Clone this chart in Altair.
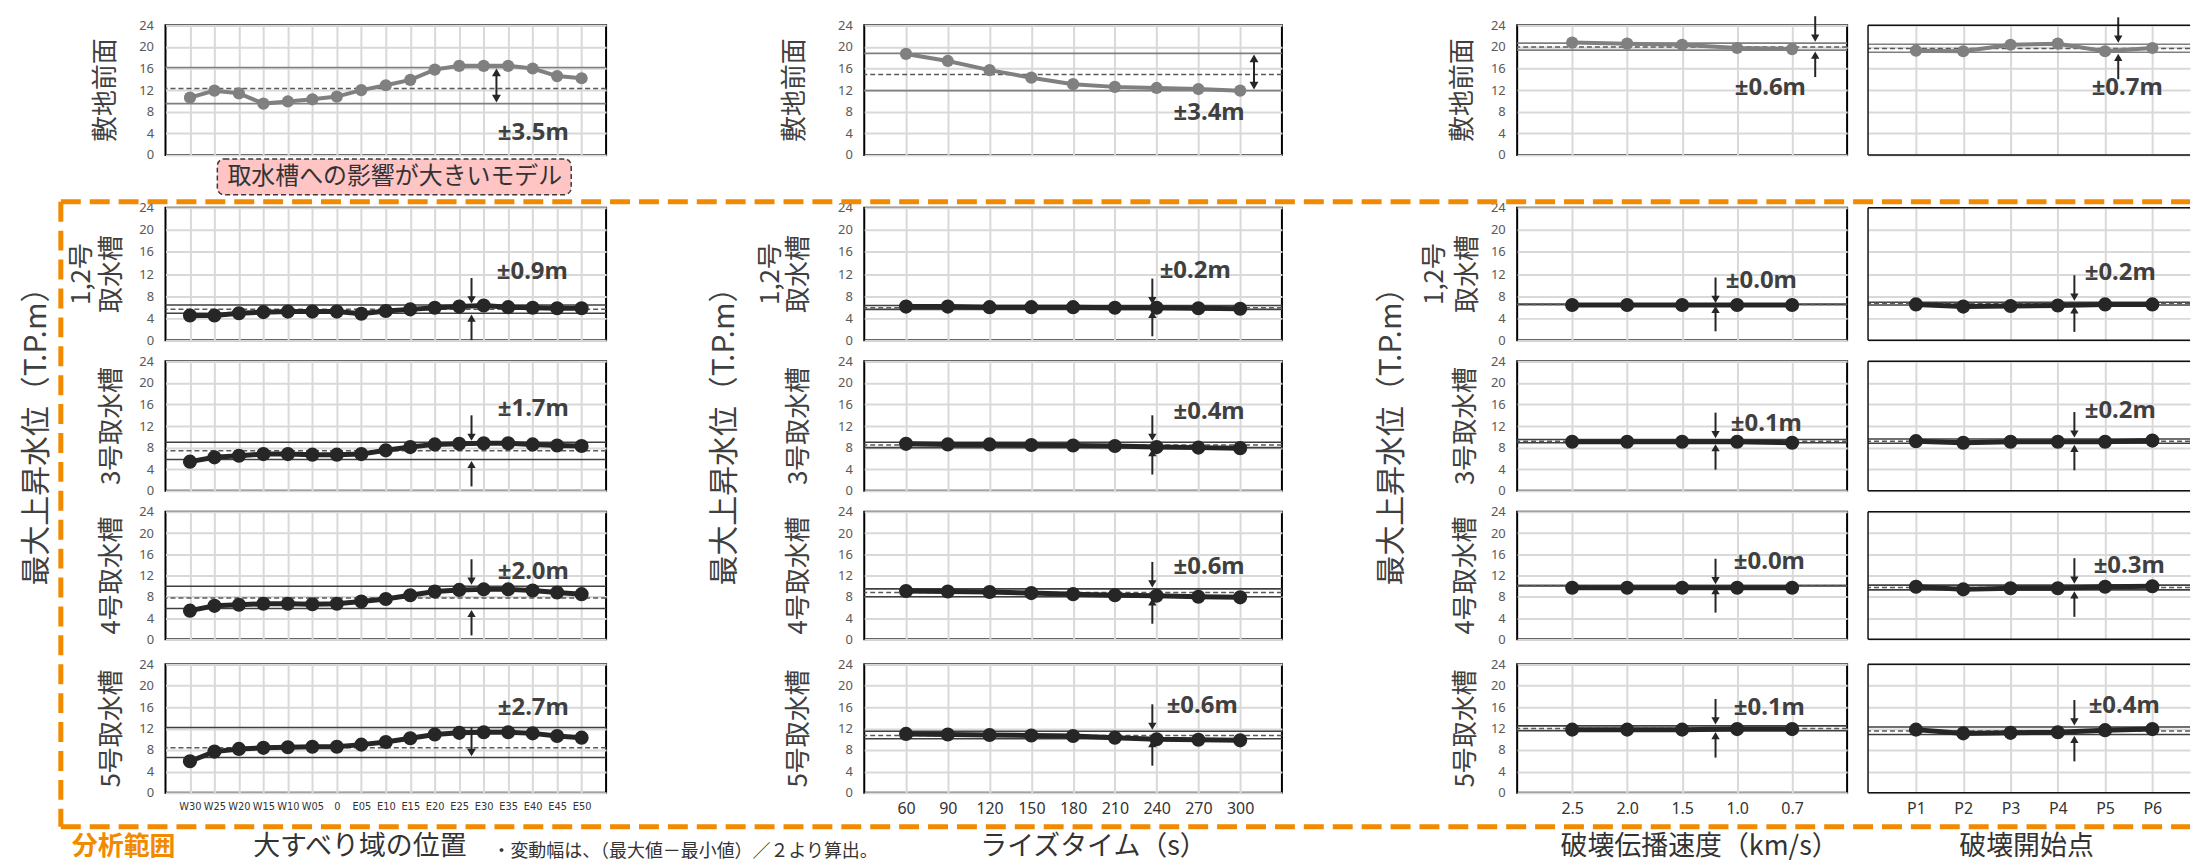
import altair as alt
import pandas as pd

# ---------------- categories / labels ----------------
POS_CATS = ["W30", "W25", "W20", "W15", "W10", "W05", "0", "E05", "E10", "E15",
            "E20", "E25", "E30", "E35", "E40", "E45", "E50"]
RISE_CATS = ["60", "90", "120", "150", "180", "210", "240", "270", "300"]
SPEED_CATS = ["2.5", "2.0", "1.5", "1.0", "0.7"]
START_CATS = ["P1", "P2", "P3", "P4", "P5", "P6"]

ROW_TITLES = [["敷地前面"], ["1,2号", "取水槽"], ["3号取水槽"], ["4号取水槽"], ["5号取水槽"]]
COL_TITLES = ["大すべり域の位置", "ライズタイム（s）", "破壊伝播速度（km/s）", "破壊開始点"]
BIG_LABEL = "最大上昇水位（T.P.m）"
NOTE = "・変動幅は、（最大値－最小値）／２より算出。"
RANGE_TAG = "分析範囲"
PINK_TAG = "取水槽への影響が大きいモデル"

# ---------------- values (T.P.m) ----------------
POS_SITE = [10.6, 11.9, 11.4, 9.5, 9.9, 10.3, 10.8, 12.0, 12.9, 13.9, 15.8, 16.5, 16.5, 16.5, 16.0, 14.6, 14.2]
POS_T12 = [4.5, 4.5, 4.9, 5.1, 5.2, 5.2, 5.2, 4.8, 5.3, 5.6, 5.9, 6.1, 6.3, 6.0, 5.9, 5.8, 5.8]
POS_T3 = [5.4, 6.2, 6.5, 6.8, 6.8, 6.7, 6.7, 6.8, 7.5, 8.1, 8.6, 8.7, 8.8, 8.8, 8.6, 8.4, 8.3]
POS_T4 = [5.4, 6.3, 6.5, 6.7, 6.7, 6.6, 6.7, 7.1, 7.6, 8.3, 9.0, 9.3, 9.4, 9.4, 9.2, 8.8, 8.5]
POS_T5 = [5.9, 7.7, 8.2, 8.4, 8.5, 8.6, 8.6, 9.0, 9.5, 10.2, 10.9, 11.2, 11.3, 11.3, 11.1, 10.6, 10.3]
POS_MAX = [16.2, 6.4, 9.0, 10.0, 12.2]
POS_MIN = [9.5, 4.9, 5.8, 5.8, 6.6]
POS_MEAN = [12.3, 5.6, 7.4, 7.8, 8.4]
POS_RANGE = ["±3.5m", "±0.9m", "±1.7m", "±2.0m", "±2.7m"]

RISE_SITE = [18.7, 17.4, 15.7, 14.3, 13.1, 12.6, 12.4, 12.2, 11.9]
RISE_T12 = [6.1, 6.1, 6.0, 6.0, 6.0, 5.9, 5.9, 5.8, 5.7]
RISE_T3 = [8.7, 8.6, 8.6, 8.5, 8.4, 8.3, 8.1, 8.0, 7.9]
RISE_T4 = [9.1, 9.0, 8.9, 8.7, 8.5, 8.3, 8.2, 8.0, 7.9]
RISE_T5 = [11.0, 10.9, 10.8, 10.7, 10.6, 10.3, 10.0, 9.9, 9.8]
RISE_MAX = [18.8, 6.3, 9.0, 9.5, 11.5]
RISE_MIN = [11.9, 5.6, 8.0, 8.0, 10.1]
RISE_MEAN = [14.9, 5.9, 8.5, 8.8, 10.7]
RISE_RANGE = ["±3.4m", "±0.2m", "±0.4m", "±0.6m", "±0.6m"]

SPEED_SITE = [20.8, 20.6, 20.4, 19.8, 19.6]
SPEED_T12 = [6.4, 6.4, 6.4, 6.4, 6.4]
SPEED_T3 = [9.1, 9.1, 9.1, 9.1, 8.9]
SPEED_T4 = [9.7, 9.7, 9.7, 9.7, 9.7]
SPEED_T5 = [11.8, 11.8, 11.8, 11.9, 11.9]
SPEED_MAX = [20.7, 6.5, 9.5, 10.1, 12.5]
SPEED_MIN = [19.4, 6.5, 8.9, 10.1, 11.6]
SPEED_MEAN = [20.0, 6.5, 9.2, 10.1, 12.0]
SPEED_RANGE = ["±0.6m", "±0.0m", "±0.1m", "±0.0m", "±0.1m"]

START_SITE = [19.3, 19.2, 20.4, 20.6, 19.2, 19.8]
START_T12 = [6.5, 6.1, 6.2, 6.3, 6.5, 6.5]
START_T3 = [9.2, 8.9, 9.1, 9.1, 9.1, 9.3]
START_T4 = [9.9, 9.4, 9.6, 9.6, 9.9, 10.0]
START_T5 = [11.8, 11.1, 11.2, 11.3, 11.7, 11.9]
START_MAX = [20.5, 6.9, 9.6, 10.2, 12.3]
START_MIN = [19.0, 6.4, 8.8, 9.3, 10.9]
START_MEAN = [19.7, 6.7, 9.2, 9.75, 11.55]
START_RANGE = ["±0.7m", "±0.2m", "±0.2m", "±0.3m", "±0.4m"]

COLUMNS = [
    dict(cats=POS_CATS, series=[POS_SITE, POS_T12, POS_T3, POS_T4, POS_T5],
         mx=POS_MAX, mn=POS_MIN, mean=POS_MEAN, rng=POS_RANGE),
    dict(cats=RISE_CATS, series=[RISE_SITE, RISE_T12, RISE_T3, RISE_T4, RISE_T5],
         mx=RISE_MAX, mn=RISE_MIN, mean=RISE_MEAN, rng=RISE_RANGE),
    dict(cats=SPEED_CATS, series=[SPEED_SITE, SPEED_T12, SPEED_T3, SPEED_T4, SPEED_T5],
         mx=SPEED_MAX, mn=SPEED_MIN, mean=SPEED_MEAN, rng=SPEED_RANGE),
    dict(cats=START_CATS, series=[START_SITE, START_T12, START_T3, START_T4, START_T5],
         mx=START_MAX, mn=START_MIN, mean=START_MEAN, rng=START_RANGE),
]

# ---------------- layout / style (page pixels) ----------------
JP = "Noto Sans CJK JP"
LAT = "Noto Sans"
NARROW = "DejaVu Sans Condensed, Liberation Sans Narrow, Liberation Sans"
ORANGE = "#f28a00"
GRID_W = [154, 442, 259, 419, 236, 331, 21, 323]
GRID_H = [12, 130, 53, 133, 21, 130, 21, 128, 25, 129, 69]
PANEL_COLS = {1: 0, 3: 1, 5: 2, 7: 3}
PANEL_ROWS = {1: 0, 3: 1, 5: 2, 7: 3, 9: 4}
GRID_X = [8 + sum(GRID_W[:j]) for j in range(len(GRID_W))]
GRID_Y = [8 + sum(GRID_H[:i]) for i in range(len(GRID_H))]

XPAD = [(1.0, 0.5), (1.0, 0.5), (1.0, 0.5), (0.905, 0.56)]
XLABEL_SIZE = [11, 16, 16, 16]
XLABEL_FONT = [NARROW, LAT, LAT, LAT]
ROW_LABEL_X = [(102, 108, (78, 108)), (794, 798, (769, 798)), (1464, 1467, (1436, 1469)), None]
ARROW_X = [(494, 469), (1254, 1152), (1817, 1717), (2121, 2077)]
ARROW_KIND = [["double", "in", "in", "in", "down"], ["double", "in", "in", "in", "in"],
              ["in"] * 5, ["in"] * 5]
TEXT_POS = [[(531, 128), (530, 267), (531, 405), (531, 568), (531, 705)],
            [(1209, 108), (1195, 266), (1209, 408), (1209, 563), (1202, 703)],
            [(1772, 83), (1763, 277), (1768, 420), (1771, 558), (1771, 705)],
            [(2130, 83), (2123, 268), (2123, 407), (2132, 562), (2127, 703)]]


def spacer(w, h):
    return alt.Chart(alt.Data(values=[{"a": 0}])).mark_point(opacity=0).encode(
        x=alt.value(0), y=alt.value(0)).properties(width=w, height=h)


def text_layer(t, x, y, size, color="#404040", font=JP, weight="normal", angle=0,
               align="center", baseline="middle"):
    return alt.Chart(alt.Data(values=[{"t": t}])).mark_text(
        font=font, fontSize=size, color=color, fontWeight=weight, angle=angle,
        align=align, baseline=baseline).encode(text="t:N", x=alt.value(x), y=alt.value(y))


def panel(ci, ri, w, h, left, top):
    col = COLUMNS[ci]
    cats = col["cats"]
    series = col["series"][ri]
    mx, mn, mean = col["mx"][ri], col["mn"][ri], col["mean"][ri]
    df = pd.DataFrame({"cat": cats, "val": series})

    yscale = alt.Scale(domain=[0, 24], nice=False, zero=True)
    yaxis = alt.Axis(values=[0, 4, 8, 12, 16, 20, 24], labels=(ci < 3), title="",
                     grid=True, gridColor="#d9d9d9", gridWidth=2, ticks=False,
                     domain=False, labelPadding=12, labelFontSize=13,
                     labelColor="#595959", labelFont=LAT, labelFlush=False)
    pad, al = XPAD[ci]
    xscale = alt.Scale(type="point", padding=pad, align=al)
    xaxis = alt.Axis(labels=(ri == 4), title="", grid=True, gridColor="#d9d9d9",
                     gridWidth=2, ticks=False, domain=False, labelAngle=0,
                     labelPadding=8, labelFontSize=XLABEL_SIZE[ci],
                     labelColor="#333333", labelFont=XLABEL_FONT[ci],
                     labelOverlap=False)
    X = alt.X("cat:N", sort=cats, scale=xscale, axis=xaxis)
    Y = alt.Y("val:Q", scale=yscale, axis=yaxis)

    if ri == 0:
        dcol, lw, psize, lcol = "#808080", 4, 150, "#7f7f7f"
    else:
        dcol, lw, psize, lcol = "#262626", 5, 200, "#404040"

    layers = []
    layers.append(alt.Chart(pd.DataFrame({"val": [mx, mn]})).mark_rule(
        color=lcol, strokeWidth=1.6).encode(y=Y))
    layers.append(alt.Chart(pd.DataFrame({"val": [mean]})).mark_rule(
        color="#595959", strokeWidth=1.5, strokeDash=[5, 3]).encode(y=Y))
    layers.append(alt.Chart(df).mark_line(color=dcol, strokeWidth=lw).encode(x=X, y=Y))
    layers.append(alt.Chart(df).mark_point(filled=True, opacity=1, color=dcol,
                                           size=psize).encode(x=X, y=Y))

    # arrows
    ac = "#262626"
    ax = (ARROW_X[ci][0] if ri == 0 else ARROW_X[ci][1]) - left
    kind = ARROW_KIND[ci][ri]
    Y2 = alt.Y2("val2:Q")
    if kind in ("double", "down"):
        d = pd.DataFrame({"val": [mx], "val2": [mn]})
        layers.append(alt.Chart(d).mark_rule(
            color=ac, strokeWidth=2, yOffset=(6 if kind == "double" else 0),
            y2Offset=-6).encode(x=alt.value(ax), y=Y, y2=Y2))
        if kind == "double":
            layers.append(alt.Chart(pd.DataFrame({"val": [mx]})).mark_point(
                shape="triangle-up", filled=True, opacity=1, size=80, color=ac,
                yOffset=5).encode(x=alt.value(ax), y=Y))
        layers.append(alt.Chart(pd.DataFrame({"val": [mn]})).mark_point(
            shape="triangle-down", filled=True, opacity=1, size=80, color=ac,
            yOffset=-5).encode(x=alt.value(ax), y=Y))
    else:
        layers.append(alt.Chart(pd.DataFrame({"val": [mx], "val2": [mx]})).mark_rule(
            color=ac, strokeWidth=2, yOffset=-27, y2Offset=-6).encode(
            x=alt.value(ax), y=Y, y2=Y2))
        layers.append(alt.Chart(pd.DataFrame({"val": [mx]})).mark_point(
            shape="triangle-down", filled=True, opacity=1, size=70, color=ac,
            yOffset=-5).encode(x=alt.value(ax), y=Y))
        layers.append(alt.Chart(pd.DataFrame({"val": [mn], "val2": [mn]})).mark_rule(
            color=ac, strokeWidth=2, yOffset=6, y2Offset=27).encode(
            x=alt.value(ax), y=Y, y2=Y2))
        layers.append(alt.Chart(pd.DataFrame({"val": [mn]})).mark_point(
            shape="triangle-up", filled=True, opacity=1, size=70, color=ac,
            yOffset=5).encode(x=alt.value(ax), y=Y))

    tx, ty = TEXT_POS[ci][ri]
    layers.append(text_layer(col["rng"][ri], tx - left, ty - top, 24,
                             color="#404040", font=LAT, weight="bold"))

    cfg = ROW_LABEL_X[ci]
    if cfg is not None:
        cy = h / 2
        if ri == 0:
            items = [(ROW_TITLES[0][0], cfg[0])]
        elif ri == 1:
            items = [(ROW_TITLES[1][0], cfg[2][0]), (ROW_TITLES[1][1], cfg[2][1])]
        else:
            items = [(ROW_TITLES[ri][0], cfg[1])]
        for t, px in items:
            layers.append(text_layer(t, px - left, cy, 26, angle=270))

    if ci == 3:
        # the last column runs off the page on the right: frame without a right edge
        one = alt.Data(values=[{"a": 0}])
        fr = dict(color="#111111", strokeWidth=1.5)
        layers.append(alt.Chart(one).mark_rule(**fr).encode(
            x=alt.value(0), x2=alt.value(w), y=alt.value(0)))
        layers.append(alt.Chart(one).mark_rule(**fr).encode(
            x=alt.value(0), x2=alt.value(w), y=alt.value(h)))
        layers.append(alt.Chart(one).mark_rule(**fr).encode(
            x=alt.value(0), y=alt.value(0), y2=alt.value(h)))
        view = alt.ViewBackground(stroke="transparent")
    else:
        view = alt.ViewBackground(stroke="black", strokeWidth=2)

    return alt.layer(*layers).properties(width=w, height=h, view=view)


def decor(w, h, left, top):
    def rx(x):
        return x - left

    def ry(y):
        return y - top

    one = alt.Data(values=[{"a": 0}])
    L = []
    # orange dashed analysis frame
    oc = dict(color=ORANGE, strokeWidth=5, strokeDash=[20, 9])
    L.append(alt.Chart(one).mark_rule(**oc).encode(
        x=alt.value(rx(57)), x2=alt.value(rx(2193)), y=alt.value(ry(197))))
    L.append(alt.Chart(one).mark_rule(**oc).encode(
        x=alt.value(rx(57)), x2=alt.value(rx(2193)), y=alt.value(ry(824))))
    L.append(alt.Chart(one).mark_rule(**oc).encode(
        x=alt.value(rx(57)), y=alt.value(ry(197)), y2=alt.value(ry(824))))
    # pink tag
    L.append(alt.Chart(one).mark_rect(
        fill="#ffc4c4", stroke="#3a3a3a", strokeWidth=1.5, strokeDash=[5, 3],
        cornerRadius=7).encode(x=alt.value(rx(214)), x2=alt.value(rx(569)),
                               y=alt.value(ry(154)), y2=alt.value(ry(190))))
    L.append(text_layer(PINK_TAG, rx(392), ry(172), 24, color="#333333"))
    # big vertical labels
    for bx in (33, 723, 1392):
        L.append(text_layer(BIG_LABEL, rx(bx), ry(425), 30, angle=270))
    # bottom labels
    L.append(text_layer(RANGE_TAG, rx(120), ry(844), 26, color=ORANGE, weight="bold"))
    for t, cx in zip(COL_TITLES, (357, 1093, 1701, 2029)):
        L.append(text_layer(t, rx(cx), ry(844), 27, color="#333333"))
    L.append(text_layer(NOTE, rx(490), ry(858), 18, color="#333333",
                        align="left", baseline="bottom"))
    return alt.layer(*L).properties(width=w, height=h)


cells = []
for i, hh in enumerate(GRID_H):
    for j, ww in enumerate(GRID_W):
        if i in PANEL_ROWS and j in PANEL_COLS:
            cells.append(panel(PANEL_COLS[j], PANEL_ROWS[i], ww, hh, GRID_X[j], GRID_Y[i]))
        elif i == len(GRID_H) - 1 and j == len(GRID_W) - 1:
            cells.append(decor(ww, hh, GRID_X[j], GRID_Y[i]))
        else:
            cells.append(spacer(ww, hh))

chart = alt.ConcatChart(
    concat=cells, columns=len(GRID_W), spacing=0, bounds="flush", align="each",
    padding=0, background="white"
).configure_view(stroke="transparent")

chart.save("out.html", embed_options={"renderer": "svg", "actions": False})
